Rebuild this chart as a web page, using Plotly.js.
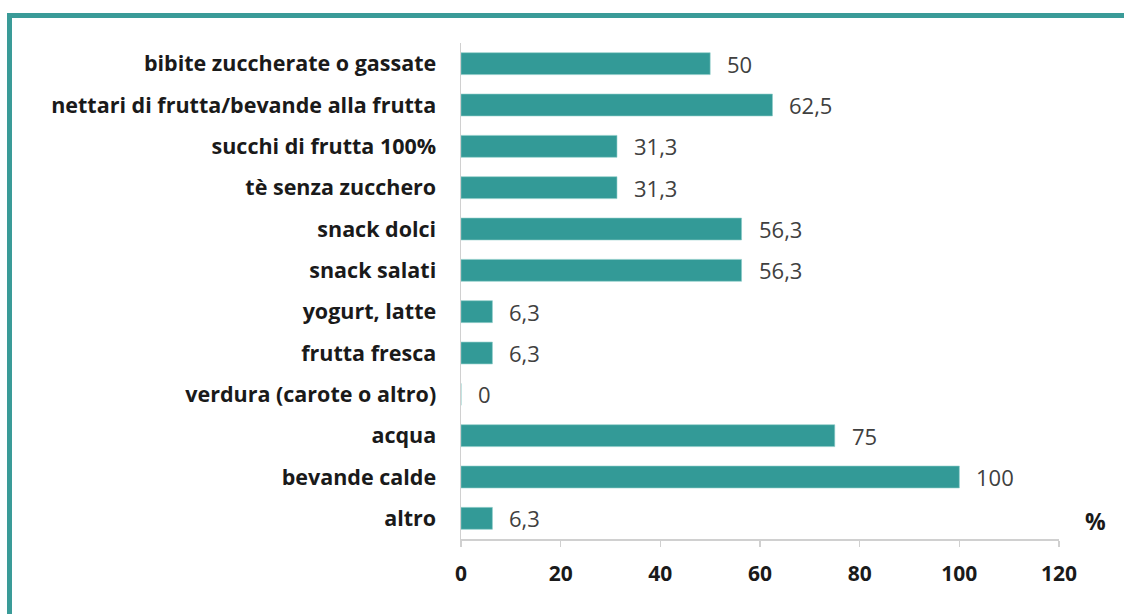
<!DOCTYPE html>
<html>
<head>
<meta charset="utf-8">
<script src="https://cdn.plot.ly/plotly-3.0.1.min.js"></script>
<style>
html,body{margin:0;padding:0;background:#fff;}
#frame{position:absolute;left:7px;top:13px;width:1117px;height:601px;border-top:5px solid #3a9b98;border-left:5px solid #3a9b98;box-sizing:border-box;}
#chart{position:absolute;left:0;top:0;width:1124px;height:614px;}
</style>
</head>
<body>
<div id="frame"></div>
<div id="chart"></div>
<script>
var categories = [
  "bibite zuccherate o gassate",
  "nettari di frutta/bevande alla frutta",
  "succhi di frutta 100%",
  "tè senza zucchero",
  "snack dolci",
  "snack salati",
  "yogurt, latte",
  "frutta fresca",
  "verdura (carote o altro)",
  "acqua",
  "bevande calde",
  "altro"
];
var values = [50, 62.5, 31.3, 31.3, 56.3, 56.3, 6.3, 6.3, 0, 75, 100, 6.3];
var xTicks = [0, 20, 40, 60, 80, 100, 120];
var unitLabel = "%";

function fmt(v){ return String(v).replace('.', ','); }

var FONT = '"Open Sans", sans-serif';

var trace = {
  type: 'bar',
  orientation: 'h',
  y: categories,
  x: values,
  marker: {color: '#339a97', line: {color: '#8ccbc8', width: 0.6}},
  hoverinfo: 'none'
};

var annotations = values.map(function(v, i){
  return {
    x: v, y: categories[i], xref: 'x', yref: 'y',
    text: fmt(v), showarrow: false, xanchor: 'left', xshift: 15, yshift: 0,
    font: {family: FONT, size: 22, color: '#404040'}
  };
});
annotations.push({
  x: 1.0, y: 0.0, xref: 'paper', yref: 'paper', xanchor: 'left', yanchor: 'bottom',
  xshift: 24, text: '<b>' + unitLabel + '</b>', showarrow: false,
  font: {family: FONT, size: 23, color: '#1a1a1a'}
});

var layout = {
  width: 1124, height: 614,
  paper_bgcolor: 'rgba(0,0,0,0)', plot_bgcolor: 'rgba(0,0,0,0)',
  margin: {l: 461, r: 65, t: 43, b: 75},
  bargap: 0.47,
  showlegend: false,
  xaxis: {
    range: [0, 120], tickvals: xTicks, ticktext: xTicks.map(function(t){return '<b>' + t + '</b>';}),
    showgrid: false, zeroline: false, showline: true, linecolor: '#d0d0d0', linewidth: 1.5,
    ticks: 'outside', ticklen: 6, tickcolor: '#d0d0d0', tickwidth: 1.5,
    ticklabelstandoff: 9,
    tickfont: {family: FONT, size: 21, color: '#1a1a1a'},
    fixedrange: true
  },
  yaxis: {
    autorange: 'reversed', showgrid: false, zeroline: false,
    showline: true, linecolor: '#d0d0d0', linewidth: 1.5,
    ticks: '', ticklabelstandoff: 19,
    tickvals: categories, ticktext: categories.map(function(c){return '<b>' + c + '</b>';}),
    tickfont: {family: FONT, size: 21.5, color: '#1a1a1a'},
    fixedrange: true
  },
  annotations: annotations
};

Plotly.newPlot('chart', [trace], layout, {displayModeBar: false, staticPlot: true});
</script>
</body>
</html>
